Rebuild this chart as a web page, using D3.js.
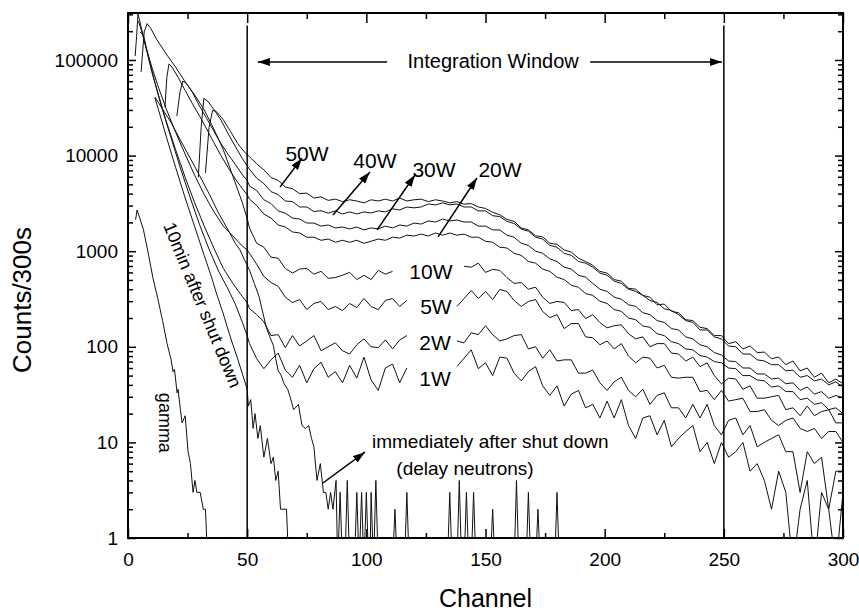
<!DOCTYPE html>
<html>
<head>
<meta charset="utf-8">
<script src="https://cdnjs.cloudflare.com/ajax/libs/d3/7.8.5/d3.min.js"></script>
<style>
  body { margin: 0; background: #fff; }
  text { font-family: "Liberation Sans", Arial, Helvetica, sans-serif; fill: #000; }
</style>
</head>
<body>
<div id="chart"></div>
<script>
// channels used by the tails of the power spectra (every 3rd channel)
var tailChannels = d3.range(51, 301, 3);

var xTicks = [0, 50, 100, 150, 200, 250, 300];
var xMinorTicks = [25, 75, 125, 175, 225, 275];
var yTicks = [1, 10, 100, 1000, 10000, 100000];

// leading part of each spectrum: [channel, counts]
var head50W = [[32.5,6600],[34,19700],[35.5,29700],[37,29000],[40,23700],[43,17900],[46,13400],[49,10800]];
var tail50W = [9700,8200,7100,5900,5500,4700,4500,4000,4050,3600,3700,3400,
  3500,3300,3450,3350,3200,3450,3350,3500,3350,3600,3350,3450,
  3500,3300,3450,3350,3200,3300,3100,3150,2900,2800,2550,2400,
  2150,2050,1750,1670,1450,1410,1210,1180,1030,980,845,780,
  710,615,590,505,485,410,400,345,330,275,280,235,
  227,192,188,160,155,131,131,108,113,95,102,87,
  88,75,78,65,71,56,60,48,53,42,46,41];

var head40W = [[29.5,5900],[30.7,19700],[31.8,39500],[33.5,37000],[36,30500],[39,23500],[42,17000],[45,12500],[48,9300],[50,7800]];
var tail40W = [7200,5800,5100,4200,3900,3350,3300,2900,2900,2600,2650,2500,
  2640,2450,2575,2450,2575,2510,2640,2575,2770,2700,2900,2840,
  2900,3120,3050,3200,3050,3120,2900,2900,2640,2640,2350,2300,
  2050,1950,1700,1620,1400,1340,1150,1100,950,905,780,750,
  680,590,560,485,460,400,380,345,305,290,250,240,
  217,188,180,150,150,127,121,102,100,84,84,73,
  71,65,65,56,57,48,50,44,46,40,43,38];

var head30W = [[20.5,26000],[21.8,46000],[23,60000],[24.5,57000],[27,46000],[30,33000],[33,24500],[36,18000],[39,13400],[42,10300],[45,8100],[48,6300],[50,5500]];
var tail30W = [4800,4300,3450,3150,2640,2500,2220,2170,1970,1970,1830,1880,
  1750,1790,1710,1790,1670,1750,1710,1830,1750,1880,1830,1970,
  1920,2070,2020,2170,2070,2120,2020,2020,1830,1830,1670,1670,
  1470,1400,1210,1150,1000,950,830,780,680,650,560,535,
  460,400,380,330,315,275,265,227,217,188,180,155,
  150,127,121,105,100,87,82,71,70,60,60,52,
  52,46,47,41,42,35,38,32,34,29,31,29];

var head20W = [[15.5,32000],[16.3,66000],[17.2,91000],[18.5,84000],[21,66000],[24,48000],[27,35000],[30,26000],[33,19000],[36,13700],[39,10000],[42,7500],[45,5700],[48,4500],[50,3900]];
var tail20W = [3500,3000,2450,2220,1880,1790,1590,1550,1400,1400,1300,1340,
  1240,1300,1240,1300,1210,1270,1340,1300,1400,1370,1470,1440,
  1510,1440,1550,1470,1550,1470,1510,1400,1400,1270,1240,1100,
  1080,950,905,780,750,650,615,535,505,440,420,360,
  345,300,284,245,235,200,192,165,160,137,131,113,
  108,95,93,81,78,70,68,60,59,50,50,45,
  44,38,39,34,34,28,29,25,26,22,23,20];

var head10W = [[5.5,75000],[6.8,197000],[8,240000],[9.5,215000],[12,165000],[16,116000],[20,84000],[24,59000],[28,43000],[32,30000],[36,19000],[40,11500],[44,6100],[48,3200],[50,2200]];
var tail10W = [1740,1210,1100,865,845,660,590,650,660,575,615,520,
  530,560,600,505,560,505,630,575,615,null,null,null,
  null,null,null,null,null,null,695,680,750,600,645,630,
  530,460,470,400,420,330,284,298,291,239,245,197,
  217,179,158,166,170,137,121,127,100,108,108,86,
  84,71,78,62,68,50,41,47,46,36,39,29,
  29,30,31,22,23,19,24,19,21,22,16,16];

var head5W = [[3,110000],[3.6,175000],[4.2,305000],[5.5,222000],[7.5,137000],[10,84000],[13,50000],[16,31000],[20,17500],[24,10300],[28,6200],[32,3900],[36,2600],[40,1830],[44,1440],[48,1130],[50,1030]];
var tail5W = [950,730,545,470,430,330,290,312,245,284,298,245,
  264,239,284,257,320,264,245,305,320,264,305,null,
  null,null,null,null,null,264,320,388,320,379,312,398,
  379,305,264,298,312,234,202,217,155,175,175,127,
  124,105,115,95,108,80,68,78,76,60,64,48,
  47,48,48,34,35,28,35,27,28,29,21,21,
  22,17,15,17,18,14,13,14,11,13,13,10];

var head2W = [[4.4,255000],[6,190000],[8,121000],[10,75000],[13,41000],[16,23000],[20,11500],[24,5900],[28,3200],[32,1830],[36,1080],[40,660],[44,460],[48,335],[50,290]];
var tail2W = [251,217,183,131,134,98,131,102,115,131,91,100,
  110,91,84,105,121,100,98,118,95,118,131,null,
  null,null,null,null,null,115,110,140,134,166,134,115,
  121,131,134,95,100,76,93,71,73,73,53,53,
  57,42,35,43,48,35,30,36,25,31,33,23,
  23,18,25,18,25,15,12,17,18,12,15,9,
  10,11,12,8,8,3,8,6,7,2,5,5];

var head1W = [[5,197000],[6.5,180000],[8.5,110000],[11,62000],[14,33000],[18,15500],[22,7400],[26,3700],[30,1900],[34,1050],[38,620],[42,400],[45,280],[48,180],[50,130]];
var tail1W = [108,75,59,73,86,57,48,64,42,59,69,48,
  55,42,64,47,78,45,35,60,66,42,60,null,
  null,null,null,null,null,62,76,93,59,68,50,78,
  76,53,44,55,62,39,31,39,24,32,35,23,
  25,18,27,18,28,15,11,18,19,12,17,9,
  11,13,15,8,10,6,10,7,8,10,5,6,
  4,2,5,3,0,2,4,0,3,2,0,3];

// shut-down and gamma spectra: [channel, counts]
var after10min = [[11.3,40000],[13,29000],[16,16000],[20,7500],[24,3600],[28,1800],[32,900],[35,540],[37,370],[40,220],[42,150],[44,105],[46,75],[48,52],[50,36],
  [50.5,24],[51.5,28],[52.5,14],[53.3,20],[54.5,11],[55.5,15],[57,7],[58.5,11],[60,6],[61,7],[62,4],[63,5],[64,2],[66.5,2],[67.5,0]];

var afterImmediate = [[11.3,41000],[14,32000],[18,22300],[22,14500],[26,9500],[30,6200],[34,4000],[38,2500],[42,1670],[45,1210],[47,1030],[49,800],[51,630],[53,460],[55,335],[57,205],[58,160],[59.5,127],[61,103],[62,75],[63,56],[64,52],[65.5,41],[67,36],[68,30],[69.5,22],[71.5,25],[73,15],[74.5,14],[75.8,15],[77,11],[78,9],[79.3,4],[80.7,6],[82,3],[83,3],[84,2],[85,3],[86,2],[87.3,4],
  [88,0],[89,3],[90,0],[91,0],[92,4],[93,0],[95,0],[96,3],[97,0],[98,3],[99,0],[100,3],[101,0],[101.5,0],[102,3],[103,0],[104,4],[105,0],[111,0],[112,2],[113,0],[116,0],[117,3],[118,0],
  [134,0],[135,3],[136,0],[138,0],[139,4],[140,0],[141,0],[142,3],[143,0],[144,0],[145,3],[146,0],[152,0],[153,2],[154,0],[162,0],[163,4],[164,0],[167,0],[168,3],[169,0],[171,0],[172,2],[173,0],[179,0],[180,3],[181,0]];

var gamma = [[3.2,2130],[3.8,2700],[5,2200],[6.5,1670],[8.5,950],[10.5,520],[12.5,320],[14.5,188],[16.4,108],[18,75],[18.9,55],[19.5,58],[20.6,33],[21,36],[22,22],[22.7,16],[24,19],[25.2,8],[26.2,6],[27.3,3],[28.1,4],[28.9,3],[30.3,3],[31.6,2],[32.5,2],[33,1],[33.6,0]];

// integration window limits (channels)
var windowChannels = [50, 250];

function joinTail(head, tail) {
  return head.concat(tail.map(function(v, i) { return [tailChannels[i], v]; }));
}

var series = [
  joinTail(head50W, tail50W), joinTail(head40W, tail40W),
  joinTail(head30W, tail30W), joinTail(head20W, tail20W),
  joinTail(head10W, tail10W), joinTail(head5W, tail5W),
  joinTail(head2W, tail2W), joinTail(head1W, tail1W),
  after10min, afterImmediate, gamma
];

var W = 859, H = 614;
var margin = {top: 13, right: 16, bottom: 76, left: 128};
var width = W - margin.left - margin.right,
    height = H - margin.top - margin.bottom;

var x = d3.scaleLinear().domain([0, 300]).range([0, width]);
var y = d3.scaleLog().domain([1, 310000]).range([height, 0]);

var svg = d3.select("#chart").append("svg")
  .attr("width", W).attr("height", H);

var defs = svg.append("defs");
defs.append("clipPath").attr("id", "plotclip")
  .append("rect").attr("width", width).attr("height", height);
defs.append("marker").attr("id", "head")
  .attr("markerUnits", "userSpaceOnUse")
  .attr("markerWidth", 13).attr("markerHeight", 8)
  .attr("refX", 12).attr("refY", 4).attr("orient", "auto")
  .append("path").attr("d", "M0,0 L12,4 L0,8 Z").attr("fill", "#000");

var g = svg.append("g").attr("transform", "translate(" + margin.left + "," + margin.top + ")");

// axes: ticks point into the plot
function styleAxis(sel) {
  sel.select(".domain").remove();
  sel.selectAll("line").attr("stroke", "#000").attr("stroke-width", 1.5);
  sel.selectAll("text").attr("font-size", 19);
}

var yMinor = [];
yTicks.forEach(function(d) {
  for (var k = 2; k <= 9; k++) if (k * d < 310000) yMinor.push(k * d);
});

g.append("g").call(d3.axisBottom(x).tickValues(xTicks).tickSizeInner(-9).tickSizeOuter(0).tickPadding(15))
  .attr("transform", "translate(0," + height + ")").call(styleAxis);
g.append("g").call(d3.axisBottom(x).tickValues(xMinorTicks).tickSizeInner(-5).tickSizeOuter(0).tickFormat(""))
  .attr("transform", "translate(0," + height + ")").call(styleAxis);
g.append("g").call(d3.axisTop(x).tickValues(xTicks).tickSizeInner(-10).tickSizeOuter(0).tickFormat(""))
  .call(styleAxis);
g.append("g").call(d3.axisTop(x).tickValues(xMinorTicks).tickSizeInner(-6).tickSizeOuter(0).tickFormat(""))
  .call(styleAxis);

g.append("g").call(d3.axisLeft(y).tickValues(yTicks).tickFormat(d3.format("d")).tickSizeInner(-8).tickSizeOuter(0).tickPadding(10))
  .call(styleAxis);
g.append("g").call(d3.axisLeft(y).tickValues(yMinor).tickFormat("").tickSizeInner(-5).tickSizeOuter(0))
  .call(styleAxis);
g.append("g").attr("transform", "translate(" + width + ",0)")
  .call(d3.axisRight(y).tickValues(yTicks).tickFormat("").tickSizeInner(-8).tickSizeOuter(0))
  .call(styleAxis);
g.append("g").attr("transform", "translate(" + width + ",0)")
  .call(d3.axisRight(y).tickValues(yMinor).tickFormat("").tickSizeInner(-5).tickSizeOuter(0))
  .call(styleAxis);

g.append("rect").attr("width", width).attr("height", height)
  .attr("fill", "none").attr("stroke", "#000").attr("stroke-width", 2);

// spectra
var line = d3.line()
  .defined(function(d) { return d[1] != null; })
  .x(function(d) { return x(d[0]); })
  .y(function(d) { return y(d[1] > 0 ? d[1] : 0.5); });

g.append("g").attr("clip-path", "url(#plotclip)")
  .selectAll("path").data(series).enter().append("path")
  .attr("d", line)
  .attr("fill", "none").attr("stroke", "#111").attr("stroke-width", 1)
  .attr("stroke-linejoin", "round");

// integration window
g.selectAll(".win").data(windowChannels).enter().append("line")
  .attr("x1", function(d) { return x(d); }).attr("x2", function(d) { return x(d); })
  .attr("y1", y(230000)).attr("y2", y(1))
  .attr("stroke", "#000").attr("stroke-width", 1.5);

// annotations (channel, counts)
var arrows = [
  [[108.7, 95300], [54.5, 95300]],
  [[193.9, 95300], [249.2, 95300]],
  [[63.8, 4700], [73, 9400]],
  [[86, 2390], [101.5, 6740]],
  [[104.5, 1670], [120.4, 6270]],
  [[130.1, 1410], [146.4, 5830]],
  [[81.8, 3.76], [99.4, 7.9]]
];
g.selectAll(".arr").data(arrows).enter().append("line")
  .attr("x1", function(d) { return x(d[0][0]); }).attr("y1", function(d) { return y(d[0][1]); })
  .attr("x2", function(d) { return x(d[1][0]); }).attr("y2", function(d) { return y(d[1][1]); })
  .attr("stroke", "#000").attr("stroke-width", 1.5).attr("marker-end", "url(#head)");

var labels = [
  {t: "Integration Window", c: 153.2, v: 97700, s: 20},
  {t: "50W", c: 75.1, v: 10600, s: 21},
  {t: "40W", c: 103.6, v: 8800, s: 21},
  {t: "30W", c: 128.4, v: 7200, s: 21},
  {t: "20W", c: 156.1, v: 7070, s: 21},
  {t: "10W", c: 127.1, v: 606, s: 21},
  {t: "5W", c: 129.2, v: 267, s: 21},
  {t: "2W", c: 128.8, v: 112, s: 21},
  {t: "1W", c: 128.8, v: 47, s: 21},
  {t: "immediately after shut down", c: 152, v: 10.1, s: 19},
  {t: "(delay neutrons)", c: 141.4, v: 5.27, s: 19},
  {t: "10min after shut down", c: 31.2, v: 274, s: 18, r: 67.5},
  {t: "gamma", c: 15.5, v: 16, s: 18, r: 90}
];
g.selectAll(".lab").data(labels).enter().append("text")
  .attr("transform", function(d) {
    return "translate(" + x(d.c) + "," + y(d.v) + ")" + (d.r ? " rotate(" + d.r + ")" : "");
  })
  .attr("text-anchor", "middle").attr("dominant-baseline", "central")
  .attr("font-size", function(d) { return d.s; })
  .text(function(d) { return d.t; });

// axis titles
svg.append("text").attr("x", margin.left + width / 2).attr("y", 607)
  .attr("text-anchor", "middle").attr("font-size", 25).text("Channel");
svg.append("text").attr("transform", "translate(22,300) rotate(-90)")
  .attr("text-anchor", "middle").attr("dominant-baseline", "central")
  .attr("font-size", 26).text("Counts/300s");
</script>
</body>
</html>
